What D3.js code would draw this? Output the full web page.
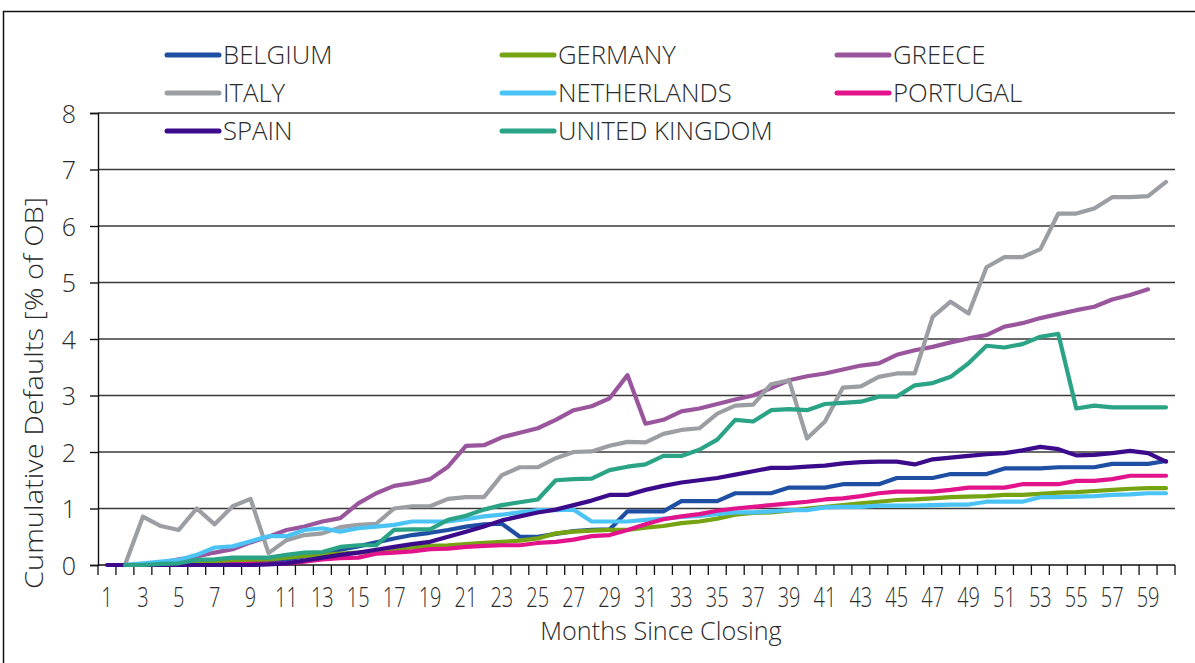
<!DOCTYPE html>
<html><head><meta charset="utf-8">
<script src="https://cdn.jsdelivr.net/npm/d3@7"></script>
<style>
html,body{margin:0;padding:0;background:#fff;}
svg{display:block;}
text{font-family:"Open Sans","Lato",sans-serif;font-weight:300;fill:#2a2a2a;}
</style></head>
<body>
<svg id="chart" width="1195" height="663"></svg>
<script>
const months = d3.range(1, 61);
const xTickLabels = d3.range(1, 60, 2);
const yTicks = [0,1,2,3,4,5,6,7,8];
const seriesNames = ["BELGIUM","GERMANY","GREECE","ITALY","NETHERLANDS","PORTUGAL","SPAIN","UNITED KINGDOM"];
const seriesColors = ["#1f4fa3","#76a312","#9a569c","#9b9ea2","#4bc4f5","#e2138b","#3b0b8c","#2aa386"];
const N = null;
const belgium = [N,0,0,0,0,0.02,0.03,0.04,0.05,0.06,0.1,0.15,0.2,0.27,0.33,0.4,0.47,0.53,0.57,0.62,0.68,0.72,0.73,0.5,0.5,0.55,0.6,0.62,0.63,0.95,0.95,0.95,1.13,1.13,1.13,1.27,1.27,1.27,1.37,1.37,1.37,1.43,1.43,1.43,1.54,1.54,1.54,1.61,1.61,1.61,1.71,1.71,1.71,1.73,1.73,1.73,1.79,1.79,1.79,1.84];
const germany = [N,0,0,0,0.02,0.04,0.06,0.08,0.09,0.1,0.13,0.16,0.18,0.2,0.22,0.24,0.28,0.31,0.34,0.35,0.37,0.39,0.41,0.43,0.47,0.56,0.59,0.61,0.62,0.62,0.66,0.69,0.74,0.77,0.82,0.89,0.92,0.93,0.96,1.0,1.03,1.06,1.09,1.12,1.15,1.16,1.18,1.2,1.21,1.22,1.24,1.24,1.26,1.28,1.29,1.31,1.33,1.35,1.36,1.36];
const greece = [N,0,0.02,0.04,0.1,0.15,0.22,0.28,0.4,0.5,0.62,0.68,0.77,0.83,1.09,1.27,1.4,1.45,1.52,1.74,2.11,2.12,2.26,2.34,2.42,2.57,2.74,2.81,2.95,3.36,2.5,2.57,2.72,2.77,2.85,2.93,3.0,3.13,3.27,3.34,3.39,3.46,3.53,3.57,3.72,3.8,3.86,3.94,4.01,4.07,4.22,4.28,4.37,4.44,4.51,4.57,4.7,4.78,4.88,N];
const italy = [N,0,0.855,0.69,0.62,1.0,0.72,1.04,1.17,0.21,0.44,0.53,0.56,0.67,0.71,0.73,1.0,1.04,1.04,1.17,1.2,1.2,1.59,1.73,1.73,1.89,2.0,2.01,2.11,2.18,2.17,2.32,2.39,2.42,2.68,2.82,2.84,3.2,3.27,2.24,2.54,3.14,3.16,3.33,3.39,3.39,4.39,4.66,4.45,5.27,5.45,5.45,5.59,6.22,6.22,6.31,6.51,6.51,6.53,6.78];
const netherlands = [N,0,0.03,0.06,0.09,0.18,0.31,0.33,0.42,0.51,0.51,0.62,0.65,0.59,0.65,0.68,0.71,0.77,0.77,0.77,0.81,0.86,0.89,0.93,0.97,0.97,0.98,0.77,0.77,0.77,0.8,0.82,0.85,0.87,0.9,0.93,0.93,0.95,0.97,0.97,1.02,1.03,1.03,1.05,1.05,1.05,1.06,1.07,1.07,1.12,1.12,1.12,1.2,1.2,1.21,1.22,1.24,1.25,1.27,1.27];
const portugal = [N,0,0,0,0,0,0,0.01,0.02,0.02,0.03,0.06,0.1,0.12,0.13,0.2,0.22,0.24,0.28,0.29,0.32,0.34,0.35,0.35,0.39,0.41,0.45,0.51,0.53,0.62,0.72,0.81,0.86,0.9,0.96,1.0,1.03,1.06,1.09,1.12,1.16,1.18,1.22,1.27,1.3,1.3,1.3,1.33,1.37,1.37,1.37,1.43,1.43,1.43,1.49,1.49,1.52,1.58,1.58,1.58];
const spain = [0,0,0,0,0,0,0,0,0,0.01,0.03,0.08,0.13,0.18,0.22,0.27,0.32,0.37,0.41,0.5,0.59,0.68,0.79,0.86,0.93,0.98,1.06,1.14,1.24,1.24,1.33,1.4,1.46,1.5,1.54,1.6,1.66,1.72,1.72,1.74,1.76,1.8,1.82,1.83,1.83,1.78,1.87,1.9,1.93,1.96,1.98,2.03,2.09,2.05,1.94,1.95,1.98,2.02,1.98,1.83];
const uk = [N,0,0,0.02,0.03,0.09,0.1,0.13,0.13,0.13,0.18,0.22,0.23,0.32,0.35,0.35,0.62,0.63,0.63,0.8,0.87,0.98,1.06,1.11,1.16,1.5,1.52,1.53,1.68,1.74,1.78,1.93,1.93,2.04,2.22,2.57,2.54,2.74,2.76,2.74,2.85,2.87,2.89,2.98,2.98,3.18,3.22,3.33,3.57,3.88,3.85,3.91,4.04,4.09,2.77,2.82,2.79,2.79,2.79,2.79];
const seriesValues = [belgium,germany,greece,italy,netherlands,portugal,spain,uk];

const svg = d3.select("#chart");
const L = 98, R = 1175, T = 113, B = 565;

// outer frame
svg.append("rect").attr("x",3.5).attr("y",11.5).attr("width",1200).attr("height",700)
  .attr("fill","none").attr("stroke","#111").attr("stroke-width",1.5);

const x = d3.scaleBand().domain(months).range([L, R]).padding(0);
const y = d3.scaleLinear().domain([0, 8]).range([B, T]);

// gridlines
svg.append("g").selectAll("line").data(yTicks.filter(d=>d>0)).join("line")
  .attr("x1", L).attr("x2", R).attr("y1", d=>y(d)).attr("y2", d=>y(d))
  .attr("stroke","#3a3a3a").attr("stroke-width",1.4);

// y axis
const yAxis = svg.append("g").attr("transform",`translate(${L},0)`)
  .call(d3.axisLeft(y).tickValues(yTicks).tickSize(8).tickPadding(14).tickFormat(d3.format("d")));
yAxis.select(".domain").attr("stroke","#111").attr("stroke-width",1.4);
yAxis.selectAll(".tick line").attr("stroke","#111").attr("stroke-width",1.4);
yAxis.selectAll(".tick text").style("font-size","25px").style("font-family","'Open Sans',sans-serif").style("font-weight","300").attr("fill","#2a2a2a").attr("dy","0.36em");

// x axis: tick marks at category boundaries
const xg = svg.append("g");
xg.append("line").attr("x1",L).attr("x2",R).attr("y1",B).attr("y2",B).attr("stroke","#111").attr("stroke-width",1.4);
xg.selectAll("line.tk").data(d3.range(0,61)).join("line").attr("class","tk")
  .attr("x1", d=> d===60 ? R : x(d+1)).attr("x2", d=> d===60 ? R : x(d+1))
  .attr("y1",B).attr("y2",B+10).attr("stroke","#111").attr("stroke-width",1.3);
xg.selectAll("text").data(xTickLabels).join("text")
  .attr("transform", d=>`translate(${x(d)+x.bandwidth()/2},607) scale(0.74,1)`)
  .attr("text-anchor","middle").style("font-size","27px").text(d=>d);

// axis titles
svg.append("text").attr("transform","translate(661,640) scale(0.97,1)").attr("text-anchor","middle")
  .style("font-size","26px").text("Months Since Closing");
svg.append("text").attr("transform","translate(43,393) rotate(-90) scale(1.12,1)").attr("text-anchor","middle")
  .style("font-size","26px").text("Cumulative Defaults [% of OB]");

// lines
const line = d3.line().defined(d=>d.v!==null)
  .x(d=>x(d.m)+x.bandwidth()/2).y(d=>y(d.v));
svg.append("g").selectAll("path").data(seriesNames.map((n,i)=>({n, c:seriesColors[i], vals: seriesValues[i].map((v,j)=>({m:months[j], v}))})))
  .join("path").attr("d", d=>line(d.vals)).attr("fill","none").attr("stroke", d=>d.c)
  .attr("stroke-width",4.2).attr("stroke-linejoin","round").attr("stroke-linecap","round");

// legend
const legX = [165, 500, 835], legY = [55, 93, 131];
const lg = svg.append("g").selectAll("g").data(seriesNames).join("g")
  .attr("transform",(d,i)=>`translate(${legX[i%3]},${legY[Math.floor(i/3)]})`);
lg.append("line").attr("x1",2).attr("x2",54).attr("y1",0).attr("y2",0)
  .attr("stroke",(d,i)=>seriesColors[i]).attr("stroke-width",5).attr("stroke-linecap","round");
lg.append("text").attr("transform","translate(58,9) scale(1.03,1)").style("font-size","25px").text(d=>d);
</script>
</body></html>
